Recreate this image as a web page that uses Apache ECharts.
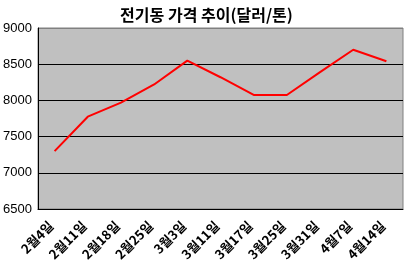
<!DOCTYPE html>
<html><head><meta charset="utf-8">
<script src="https://cdn.jsdelivr.net/npm/echarts@6/dist/echarts.min.js"></script>
<style>html,body{margin:0;padding:0;background:#fff}#c{width:413px;height:264px}</style>
</head><body><div id="c"></div>
<script>
var titleText = '전기동 가격 추이(달러/톤)';
var categories = ['2월4일','2월11일','2월18일','2월25일','3월3일','3월11일','3월17일','3월25일','3월31일','4월7일','4월14일'];
var prices = [7300, 7775, 7970, 8220, 8550, 8320, 8075, 8075, 8390, 8700, 8540];
var yMin = 6500, yMax = 9000, yStep = 500;

var chart = echarts.init(document.getElementById('c'));
chart.setOption({
  animation: false,
  backgroundColor: '#ffffff',
  title: {
    text: titleText, left: 'center', top: 2,
    textStyle: {fontFamily: 'Noto Sans CJK KR', fontSize: 16, fontWeight: 'bold', color: '#000'}
  },
  grid: {left: 37, right: 10, top: 28, bottom: 55, show: true, backgroundColor: '#c0c0c0', borderColor: '#808080', borderWidth: 1},
  xAxis: {
    type: 'category', data: categories, boundaryGap: true,
    axisLine: {lineStyle: {color: '#000', width: 1}},
    axisTick: {inside: true, length: 4, lineStyle: {color: '#000'}},
    axisLabel: {rotate: 45, margin: 11, padding: [0, 5, 0, 0], interval: 0, fontFamily: 'Noto Sans CJK KR', fontSize: 13, fontWeight: 'bold', color: '#000'}
  },
  yAxis: {
    type: 'value', min: yMin, max: yMax, interval: yStep,
    axisLine: {show: true, lineStyle: {color: '#000', width: 1}},
    axisTick: {show: false},
    axisLabel: {margin: 35, align: 'left', fontFamily: 'Liberation Sans', fontSize: 13, color: '#000', formatter: function (v) { return String(v); }},
    splitLine: {show: true, lineStyle: {color: ['#000','#000','#000','#000','#000','#808080'], width: 1}}
  },
  series: [{
    type: 'line', data: prices, symbol: 'none',
    lineStyle: {color: '#ff0000', width: 2}
  }]
});
</script></body></html>
